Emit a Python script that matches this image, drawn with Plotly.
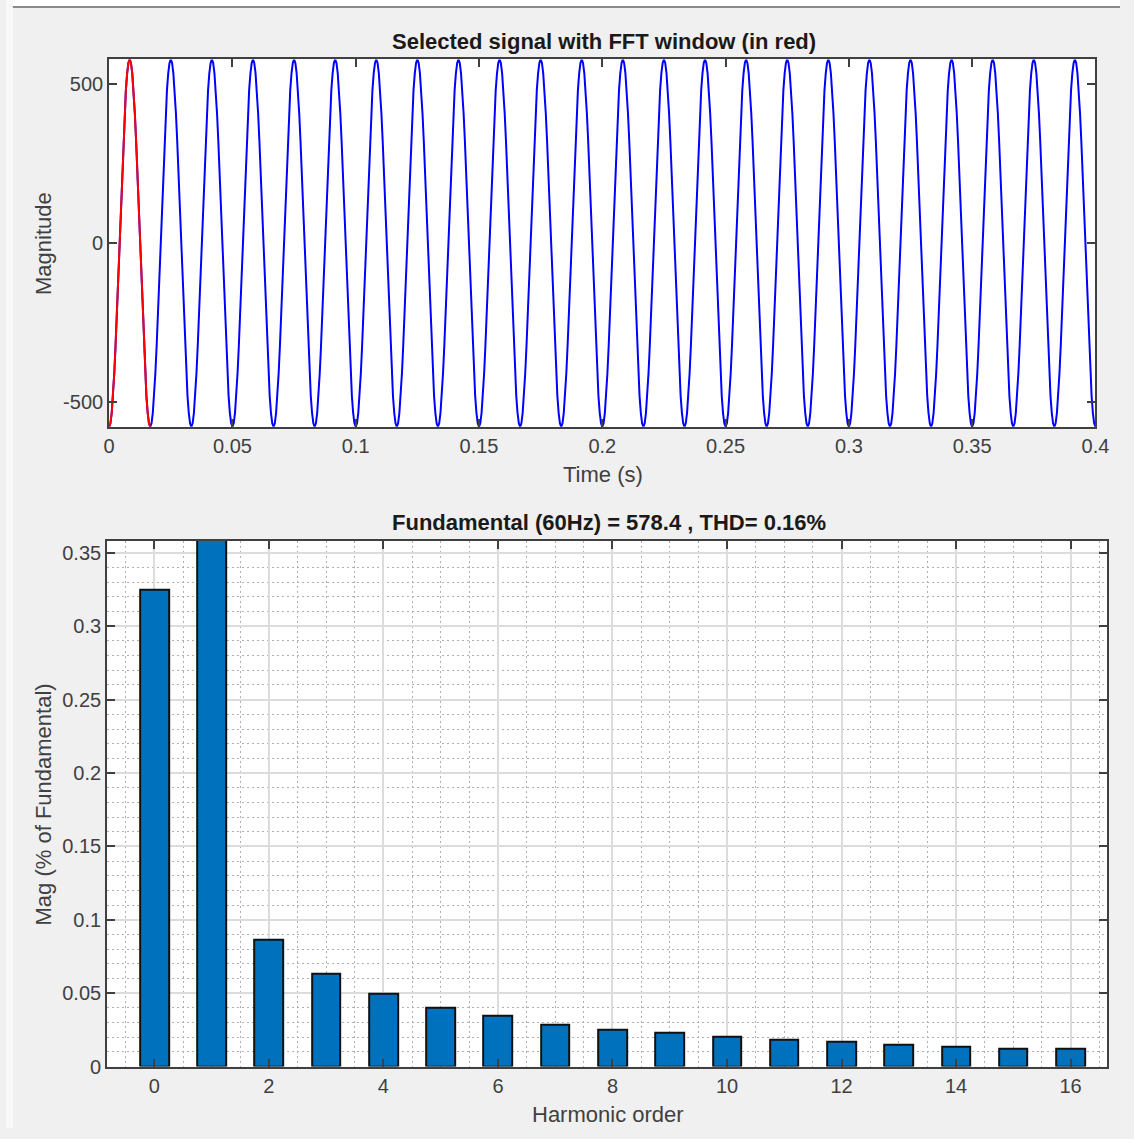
import plotly.graph_objects as go

W, H = 1134, 1139

# ---------------- data ----------------
# one 60 Hz cycle of the selected signal (32 samples)
signal_cycle = [-578.4, -567.3, -534.4, -480.9, -409.0, -321.4, -221.3, -112.8, 0.0,
                112.8, 221.3, 321.4, 409.0, 480.9, 534.4, 567.3, 578.4,
                567.3, 534.4, 480.9, 409.0, 321.4, 221.3, 112.8, 0.0,
                -112.8, -221.3, -321.4, -409.0, -480.9, -534.4, -567.3]
n_cycles = 24
cycle_period = 1 / 60.0

time_ticks = [0, 0.05, 0.1, 0.15, 0.2, 0.25, 0.3, 0.35, 0.4]
time_tick_labels = ["0", "0.05", "0.1", "0.15", "0.2", "0.25", "0.3", "0.35", "0.4"]
mag_ticks = [-500, 0, 500]
mag_tick_labels = ["-500", "0", "500"]

harmonic_order = list(range(17))
harmonic_mag = [0.3250, 100.0, 0.0866, 0.0633, 0.0497, 0.0400, 0.0344, 0.0286,
                0.0251, 0.0228, 0.0205, 0.0183, 0.0169, 0.0149, 0.0136, 0.0124, 0.0120]
harm_ticks = [0, 2, 4, 6, 8, 10, 12, 14, 16]
harm_tick_labels = ["0", "2", "4", "6", "8", "10", "12", "14", "16"]
pct_ticks = [0, 0.05, 0.1, 0.15, 0.2, 0.25, 0.3, 0.35]
pct_tick_labels = ["0", "0.05", "0.1", "0.15", "0.2", "0.25", "0.3", "0.35"]

top_title = "Selected signal with FFT window (in red)"
bottom_title = "Fundamental (60Hz) = 578.4 , THD= 0.16%"

# build samples
n_per = len(signal_cycle)
dt = cycle_period / n_per
t_all = [i * dt for i in range(n_cycles * n_per + 1)]
v_all = signal_cycle * n_cycles + [signal_cycle[0]]
t_win = t_all[:n_per + 1]
v_win = v_all[:n_per + 1]

# ---------------- figure ----------------
FONT = "Liberation Sans, Arial, Helvetica, sans-serif"
AX = "#404040"
TICKC = "#404040"

fig = go.Figure()
fig.add_trace(go.Scatter(x=t_all, y=v_all, mode="lines",
                         line=dict(color="#0000ff", width=2), xaxis="x", yaxis="y",
                         showlegend=False, hoverinfo="skip"))
fig.add_trace(go.Scatter(x=t_win, y=v_win, mode="lines",
                         line=dict(color="#ff0000", width=2), xaxis="x", yaxis="y",
                         showlegend=False, hoverinfo="skip"))
fig.add_trace(go.Bar(x=harmonic_order, y=harmonic_mag, width=0.5,
                     marker=dict(color="#0072bd", line=dict(color="#111111", width=2)),
                     xaxis="x2", yaxis="y2", showlegend=False))

common = dict(showline=True, linecolor=AX, linewidth=2, mirror="allticks",
              ticks="inside", ticklen=8, tickwidth=2, tickcolor=AX,
              tickfont=dict(family=FONT, size=20, color=TICKC), zeroline=False)

minor_grid = dict(showgrid=True, gridcolor="#b0b0b0", griddash="2px,3px",
                  gridwidth=1, ticks="")

fig.update_layout(
    autosize=True,
    margin=dict(l=0, r=0, t=0, b=0),
    paper_bgcolor="#f0f0f0", plot_bgcolor="white",
    font=dict(family=FONT, color=TICKC),
    bargap=0,
    xaxis=dict(domain=[105 / W, 1109 / W], anchor="y", range=[0, 0.4],
               tickmode="array", tickvals=time_ticks, ticktext=time_tick_labels,
               showgrid=False, **common),
    yaxis=dict(domain=[1 - 431 / H, 1 - 60 / H], anchor="x", range=[-578.4, 578.4],
               tickmode="array", tickvals=mag_ticks, ticktext=mag_tick_labels,
               showgrid=False, **common),
    xaxis2=dict(domain=[103 / W, 1121 / W], anchor="y2", range=[-0.824, 16.64],
                tickmode="array", tickvals=harm_ticks, ticktext=harm_tick_labels,
                showgrid=True, gridcolor="#dcdcdc", gridwidth=1.5,
                minor=dict(tickmode="linear", tick0=0, dtick=0.5, **minor_grid),
                **common),
    yaxis2=dict(domain=[1 - 1077 / H, 1 - 546 / H], anchor="x2", range=[0, 0.3583],
                tickmode="array", tickvals=pct_ticks, ticktext=pct_tick_labels,
                showgrid=True, gridcolor="#dcdcdc", gridwidth=1.5,
                minor=dict(tickmode="linear", tick0=0, dtick=0.01, **minor_grid),
                **common),
)

def ann(text, x, y, size=22, bold=False, angle=0, color=TICKC):
    fig.add_annotation(text=f"<b>{text}</b>" if bold else text,
                       x=x / W, y=1 - y / H, xref="paper", yref="paper",
                       xanchor="center", yanchor="middle", showarrow=False,
                       textangle=angle, font=dict(family=FONT, size=size, color=color))

ann(top_title, 609, 42, size=22, bold=True, color="#1a1a1a")
ann("Time (s)", 608, 479)
ann("Magnitude", 38, 246, angle=-90)
ann(bottom_title, 614, 528, size=22, bold=True, color="#1a1a1a")
ann("Harmonic order", 613, 1125)
ann("Mag (% of Fundamental)", 38, 812, angle=-90)

# window frame: white top strip, left strip, border line
fig.add_shape(type="rect", xref="paper", yref="paper", x0=0, x1=1, y0=1 - 6 / H, y1=1,
              fillcolor="white", line=dict(width=0), layer="below")
fig.add_shape(type="rect", xref="paper", yref="paper", x0=0, x1=7 / W, y0=0, y1=1,
              fillcolor="#f8f8f8", line=dict(width=0), layer="below")
fig.add_shape(type="line", xref="paper", yref="paper", x0=7 / W, x1=1,
              y0=1 - 7 / H, y1=1 - 7 / H, line=dict(color="#8a8a8a", width=2))

page_js = (
    "document.documentElement.style.margin='0px';"
    "document.documentElement.style.overflow='hidden';"
    "document.body.style.margin='0px';document.body.style.padding='0px';"
    "document.body.style.overflow='hidden';"
    "var gd=document.getElementById('{plot_id}');"
    "gd.style.width='100vw';gd.style.height='100vh';"
    "Plotly.Plots.resize(gd);"
)

fig.write_html("out.html", post_script=page_js,
               default_width="100vw", default_height="100vh",
               config={"displayModeBar": False, "responsive": True})
